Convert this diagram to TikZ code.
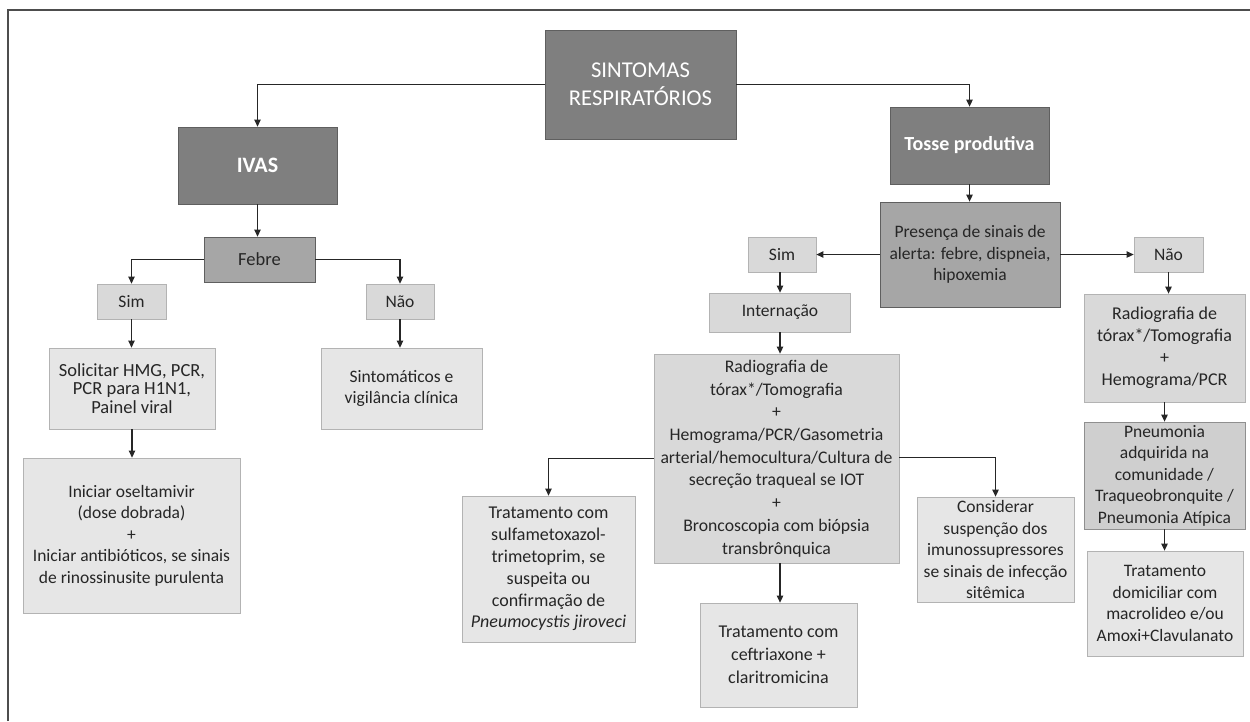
\documentclass[tikz,border=0pt]{standalone}
\usepackage{fontspec}
\setmainfont{Carlito}
\usetikzlibrary{arrows.meta}
\definecolor{boxdark}{HTML}{7F7F7F}
\definecolor{boxmid}{HTML}{A6A6A6}
\definecolor{boxlight}{HTML}{D9D9D9}
\definecolor{boxpale}{HTML}{E6E6E6}
\definecolor{boxgrey}{HTML}{CFCFCF}
\definecolor{edgedark}{HTML}{5F5F5F}
\definecolor{edgelight}{HTML}{B3B3B3}
\definecolor{ink}{HTML}{262626}
\definecolor{framecol}{HTML}{4D4D4D}
\begin{document}
\begin{tikzpicture}[x=1pt,y=-1pt,
  base/.style={rectangle, inner sep=0pt, align=center, line width=0.8pt,
    text=ink, font=\fontsize{17.5}{21.5}\selectfont},
  darkbox/.style={base, fill=boxdark, draw=edgedark, text=white},
  midbox/.style={base, fill=boxmid, draw=edgedark},
  lightbox/.style={base, fill=boxlight, draw=edgelight},
  palebox/.style={base, fill=boxpale, draw=edgelight},
  size/.style 2 args={minimum width=#1pt, minimum height=#2pt},
  flow/.style={draw=ink, line width=1.2pt, -{Triangle[length=7pt,width=6.5pt]}}]

\useasboundingbox (0,0) rectangle (1250,721);
% open frame (top and left sides)
\draw[framecol, line width=1.6pt] (8,721) -- (8,10) -- (1250,10);

% top level
\node[darkbox, size={191}{109}, font=\fontsize{22.6}{28}\selectfont] (sint) at (640.5,84.5) {SINTOMAS\\RESPIRATÓRIOS};
\node[darkbox, size={159}{77}, font=\fontsize{22}{26}\selectfont\bfseries] (ivas) at (257.5,165.5) {IVAS};
\node[darkbox, size={159}{77}, font=\fontsize{20}{24}\selectfont\bfseries] (tosse) at (969.5,145.5) {Tosse produtiva};

% IVAS branch
\node[midbox, size={111}{45}, font=\fontsize{18.5}{22}\selectfont] (febre) at (259.5,259.5) {Febre};
\node[lightbox, size={69}{35}] (simL) at (131.5,301.5) {Sim};
\node[lightbox, size={68}{35}] (naoL) at (400,301.5) {Não};
\node[palebox, size={166}{81}, font=\fontsize{18.5}{18.5}\selectfont] (solic) at (132,388.5) {Solicitar HMG, PCR,\\PCR para H1N1,\\Painel viral};
\node[palebox, size={161}{81}] (sintom) at (401.5,388.5) {Sintomáticos e\\vigilância clínica};
\node[palebox, size={217}{155}] (inic) at (131.5,535.5) {Iniciar oseltamivir\\(dose dobrada)\\+\\Iniciar antibióticos, se sinais\\de rinossinusite purulenta};

% Tosse produtiva branch
\node[midbox, size={180}{105}] (pres) at (970,254.5) {Presença de sinais de\\alerta: febre, dispneia,\\hipoxemia};
\node[lightbox, size={68}{35}] (simR) at (782,254.5) {Sim};
\node[lightbox, size={69}{35}] (naoR) at (1168.5,254.5) {Não};
\node[lightbox, size={141}{39}] (intern) at (780,312.5) {Internação};
\node[lightbox, size={245}{209}, font=\fontsize{17.7}{22.7}\selectfont] (radio) at (776.5,458.5) {Radiografia de\\tórax*/Tomografia\\+\\Hemograma/PCR/Gasometria\\arterial/hemocultura/Cultura de\\secreção traqueal se IOT\\+\\Broncoscopia com biópsia\\transbrônquica};
\node[palebox, size={173}{146}, font=\fontsize{18}{21.9}\selectfont] (sulfa) at (548.5,569) {Tratamento com\\sulfametoxazol-\\trimetoprim, se\\suspeita ou\\confirmação de\\\textit{Pneumocystis jiroveci}};
\node[palebox, size={157}{104}, font=\fontsize{18}{23}\selectfont] (ceft) at (778.5,655) {Tratamento com\\ceftriaxone +\\claritromicina};
\node[palebox, size={157}{105}] (consid) at (995.5,549.5) {Considerar\\suspenção dos\\imunossupressores\\se sinais de infecção\\sitêmica};
\node[lightbox, size={161}{108}, font=\fontsize{18}{22}\selectfont] (radioR) at (1164.5,348) {Radiografia de\\tórax*/Tomografia\\+\\Hemograma/PCR};
\node[lightbox, fill=boxgrey, draw=edgedark!70, size={161}{107}] (pneu) at (1164.5,475.5) {Pneumonia\\adquirida na\\comunidade /\\Traqueobronquite /\\Pneumonia Atípica};
\node[palebox, size={156}{105}] (trat) at (1165,603.5) {Tratamento\\domiciliar com\\macrolideo e/ou\\Amoxi+Clavulanato};

% connectors
\draw[flow] (sint.west) -| (ivas.north);
\draw[flow] (sint.east) -| (tosse.north);
\draw[flow] (ivas.south) -- (febre.north -| ivas.south);
\draw[flow] (febre.west) -| (simL.north);
\draw[flow] (febre.east) -| (naoL.north);
\draw[flow] (simL.south) -- (solic.north -| simL.south);
\draw[flow] (naoL.south) -- (sintom.north -| naoL.south);
\draw[flow] (solic.south) -- (inic.north -| solic.south);

\draw[flow] (tosse.south) -- (pres.north -| tosse.south);
\draw[flow] (pres.west) -- (simR.east);
\draw[flow] (pres.east) -- (naoR.west);
\draw[flow] (intern.north |- simR.south) -- (intern.north);
\draw[flow] (intern.south) -- (radio.north -| intern.south);
\draw[flow] (radio.west) -| (sulfa.north);
\draw[flow] ([yshift=1pt]radio.east) -| (consid.north);
\draw[flow] (intern.south |- radio.south) -- (ceft.north -| intern.south);
\draw[flow] (naoR.south) -- (radioR.north -| naoR.south);
\draw[flow] (radioR.south) -- (pneu.north -| radioR.south);
\draw[flow] (pneu.south) -- (trat.north -| pneu.south);
\end{tikzpicture}
\end{document}
